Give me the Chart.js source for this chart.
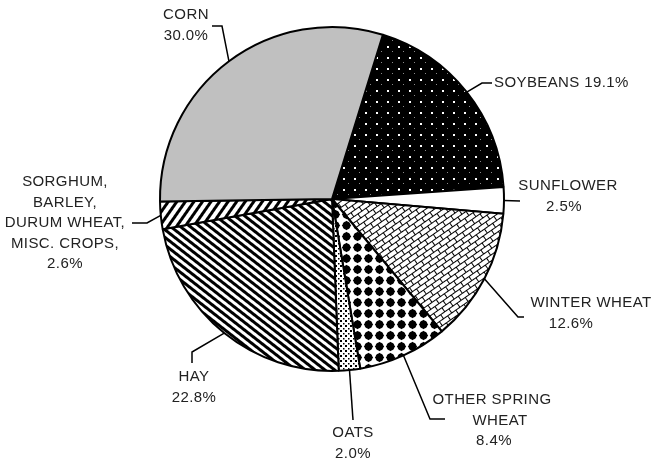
<!DOCTYPE html>
<html>
<head>
<meta charset="utf-8">
<script src="https://cdn.jsdelivr.net/npm/chart.js@4"></script>
<style>
  body { margin: 0; background: #fff; }
  canvas { display: block; }
</style>
</head>
<body>
<canvas id="myChart" width="657" height="458"></canvas>
<script>
// crop shares, clockwise from the top-right
const crops = ["SOYBEANS", "SUNFLOWER", "WINTER WHEAT", "OTHER SPRING WHEAT", "OATS", "HAY",
  "SORGHUM, BARLEY, DURUM WHEAT, MISC. CROPS", "CORN"];
const shares = [19.1, 2.5, 12.6, 8.4, 2.0, 22.8, 2.6, 30.0];
const labelLines = [
  ["SOYBEANS 19.1%"],
  ["SUNFLOWER", "2.5%"],
  ["WINTER WHEAT", "12.6%"],
  ["OTHER SPRING", "WHEAT", "8.4%"],
  ["OATS", "2.0%"],
  ["HAY", "22.8%"],
  ["SORGHUM,", "BARLEY,", "DURUM WHEAT,", "MISC. CROPS,", "2.6%"],
  ["CORN", "30.0%"]
];

// where each label and its leader bend sit (layout only)
const labelLayout = [
  { bend: [[482, 83], [492, 83]], x: [494], y: 83, align: "left" },
  { bend: [[520, 201]], x: [568, 564], y: 186, align: "center" },
  { bend: [[518, 317], [524, 317]], x: [591, 571], y: 303, align: "center" },
  { bend: [[430, 419], [445, 419]], x: [492, 500, 494], y: 400, align: "center" },
  { bend: [[353, 420]], x: [353], y: 433, align: "center" },
  { bend: [[192, 352], [192, 363]], x: [194], y: 377, align: "center" },
  { bend: [[147, 223], [132, 223]], x: [65], y: 182, align: "center" },
  { bend: [[222, 26], [212, 26]], x: [186], y: 15, align: "center" }
];

// helper to make a pattern from a small tile
function makeTile(w, h, draw) {
  const c = document.createElement("canvas");
  c.width = w;
  c.height = h;
  const g = c.getContext("2d");
  draw(g, w, h);
  return c;
}

const ctx = document.getElementById("myChart");
const g0 = ctx.getContext("2d");

// soybeans: black with white dots
const soyPat = g0.createPattern(makeTile(11, 11, function (g) {
  g.fillStyle = "#000"; g.fillRect(0, 0, 11, 11);
  g.fillStyle = "#fff"; g.fillRect(2, 2, 2, 2);
  g.fillStyle = "#888"; g.fillRect(7, 7, 1, 1);
}), "repeat");

// winter wheat: bricks, rotated
const brickPat = g0.createPattern(makeTile(10, 10, function (g) {
  g.fillStyle = "#fff"; g.fillRect(0, 0, 10, 10);
  g.fillStyle = "#000";
  g.fillRect(0, 0, 10, 1);
  g.fillRect(0, 5, 10, 1);
  g.fillRect(0, 0, 1, 5);
  g.fillRect(5, 5, 1, 5);
}), "repeat");
brickPat.setTransform(new DOMMatrix().rotateSelf(-35));

// other spring wheat: black diamonds
const diamondPat = g0.createPattern(makeTile(11, 11, function (g) {
  g.fillStyle = "#fff"; g.fillRect(0, 0, 11, 11);
  g.fillStyle = "#000";
  g.beginPath();
  g.moveTo(5.5, 0.8); g.lineTo(10.2, 5.5); g.lineTo(5.5, 10.2); g.lineTo(0.8, 5.5);
  g.closePath(); g.fill();
  g.beginPath(); g.arc(5.5, 5.5, 3.9, 0, Math.PI * 2); g.fill();
}), "repeat");

// oats: tiny squares
const oatsPat = g0.createPattern(makeTile(5, 5, function (g) {
  g.fillStyle = "#fff"; g.fillRect(0, 0, 5, 5);
  g.fillStyle = "#000";
  g.fillRect(0, 0, 2, 2);
  g.fillRect(3, 3, 1.5, 1.5);
}), "repeat");

// hay: wide stripes going down to the right
const hayPat = g0.createPattern(makeTile(6, 6, function (g) {
  g.fillStyle = "#fff"; g.fillRect(0, 0, 6, 6);
  g.fillStyle = "#000"; g.fillRect(0, 0, 6, 3);
}), "repeat");
hayPat.setTransform(new DOMMatrix().rotateSelf(38));

// sorghum etc: thin stripes going up to the right
const sorgPat = g0.createPattern(makeTile(7, 7, function (g) {
  g.fillStyle = "#fff"; g.fillRect(0, 0, 7, 7);
  g.fillStyle = "#000"; g.fillRect(0, 0, 7, 3);
}), "repeat");
sorgPat.setTransform(new DOMMatrix().rotateSelf(-55));

const fills = [soyPat, "#ffffff", brickPat, diamondPat, oatsPat, hayPat, sorgPat, "#c0c0c0"];

// draw the leader lines and labels
const leaderLabels = {
  id: "leaderLabels",
  afterDraw(chart) {
    const c = chart.ctx;
    const arcs = chart.getDatasetMeta(0).data;
    c.save();
    c.strokeStyle = "#000";
    c.lineWidth = 1.5;
    c.fillStyle = "#222";
    c.font = "15px 'Liberation Sans', Arial, sans-serif";
    c.letterSpacing = "0.4px";
    c.textBaseline = "middle";
    for (let i = 0; i < arcs.length; i++) {
      const a = arcs[i];
      const mid = (a.startAngle + a.endAngle) / 2;
      const ex = a.x + Math.cos(mid) * a.outerRadius;
      const ey = a.y + Math.sin(mid) * a.outerRadius;
      const lay = labelLayout[i];
      c.beginPath();
      c.moveTo(ex, ey);
      for (let j = 0; j < lay.bend.length; j++) {
        c.lineTo(lay.bend[j][0], lay.bend[j][1]);
      }
      c.stroke();
      c.textAlign = lay.align;
      for (let k = 0; k < labelLines[i].length; k++) {
        const tx = lay.x[Math.min(k, lay.x.length - 1)];
        c.fillText(labelLines[i][k], tx, lay.y + k * 20.5);
      }
    }
    c.restore();
  }
};

new Chart(ctx, {
  type: "pie",
  data: {
    labels: crops,
    datasets: [
      {
        data: shares,
        backgroundColor: fills,
        borderColor: "#000",
        borderWidth: 2,
        hoverBorderWidth: 2,
      },
    ],
  },
  options: {
    responsive: false,
    animation: false,
    rotation: 17.2,
    layout: { padding: { top: 26, bottom: 86, left: 150, right: 143 } },
    plugins: {
      legend: { display: false },
      tooltip: { enabled: false },
    },
  },
  plugins: [leaderLabels],
});
</script>
</body>
</html>
